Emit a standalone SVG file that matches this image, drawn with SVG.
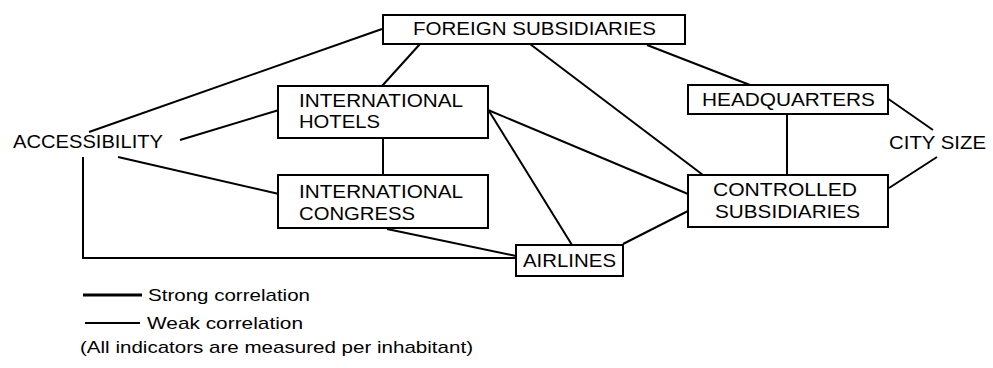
<svg xmlns="http://www.w3.org/2000/svg" width="993" height="368" viewBox="0 0 993 368">
<style>
.box{fill:#fff;stroke:#000;stroke-width:2}
.t{font-family:"Liberation Sans",Arial,sans-serif;font-size:18px;fill:#000}
.lg{font-family:"Liberation Sans",Arial,sans-serif;font-size:17px;fill:#000}
.c line,.c polyline{stroke:#000;stroke-width:2;fill:none}
</style>
<rect width="993" height="368" fill="#fff"/>
<g class="c" id="connectors">
<line x1="89" y1="132" x2="382" y2="29"/>
<line x1="180" y1="140" x2="279" y2="110"/>
<line x1="118" y1="157" x2="279" y2="194"/>
<polyline points="83,157 83,258 516,258"/>
<line x1="387" y1="229" x2="516" y2="256"/>
<line x1="420" y1="44" x2="382" y2="86"/>
<line x1="383" y1="138" x2="383" y2="175"/>
<line x1="488" y1="110" x2="688" y2="194"/>
<line x1="489" y1="111" x2="572" y2="245"/>
<line x1="530" y1="44" x2="703" y2="175"/>
<line x1="647" y1="45" x2="750" y2="85"/>
<line x1="787" y1="114" x2="787" y2="175"/>
<line x1="887" y1="98" x2="933" y2="130"/>
<line x1="889" y1="188" x2="937" y2="157"/>
<line x1="623" y1="244" x2="688" y2="211"/>
</g>
<g id="foreign"><rect class="box" x="383" y="15" width="302" height="29"/><text class="t" x="413" y="35" textLength="243" lengthAdjust="spacingAndGlyphs">FOREIGN SUBSIDIARIES</text></g>
<g id="hotels"><rect class="box" x="278" y="86" width="210" height="52"/><text class="t" x="299" y="107" textLength="164" lengthAdjust="spacingAndGlyphs">INTERNATIONAL</text><text class="t" x="299" y="128" textLength="81" lengthAdjust="spacingAndGlyphs">HOTELS</text></g>
<g id="congress"><rect class="box" x="278" y="175" width="210" height="53"/><text class="t" x="299" y="198" textLength="164" lengthAdjust="spacingAndGlyphs">INTERNATIONAL</text><text class="t" x="299" y="220" textLength="116" lengthAdjust="spacingAndGlyphs">CONGRESS</text></g>
<g id="headquarters"><rect class="box" x="688" y="85" width="200" height="29"/><text class="t" x="702" y="106" textLength="173" lengthAdjust="spacingAndGlyphs">HEADQUARTERS</text></g>
<g id="controlled"><rect class="box" x="688" y="175" width="200" height="52"/><text class="t" x="713" y="196" textLength="144" lengthAdjust="spacingAndGlyphs">CONTROLLED</text><text class="t" x="715" y="218" textLength="145" lengthAdjust="spacingAndGlyphs">SUBSIDIARIES</text></g>
<g id="airlines"><rect class="box" x="516" y="245" width="107" height="31"/><text class="t" x="523" y="267" textLength="93" lengthAdjust="spacingAndGlyphs">AIRLINES</text></g>
<g id="accessibility"><text class="t" x="13" y="148" textLength="150" lengthAdjust="spacingAndGlyphs">ACCESSIBILITY</text></g>
<g id="citysize"><text class="t" x="889" y="149" textLength="97" lengthAdjust="spacingAndGlyphs">CITY SIZE</text></g>
<g id="legend">
<line x1="83" y1="295" x2="142" y2="295" stroke="#000" stroke-width="3"/>
<text class="lg" x="148" y="301" textLength="162" lengthAdjust="spacingAndGlyphs">Strong correlation</text>
<line x1="85" y1="323" x2="140" y2="323" stroke="#000" stroke-width="2"/>
<text class="lg" x="147" y="329" textLength="156" lengthAdjust="spacingAndGlyphs">Weak correlation</text>
<text class="lg" x="80" y="353" textLength="393" lengthAdjust="spacingAndGlyphs">(All indicators are measured per inhabitant)</text>
</g>
</svg>
